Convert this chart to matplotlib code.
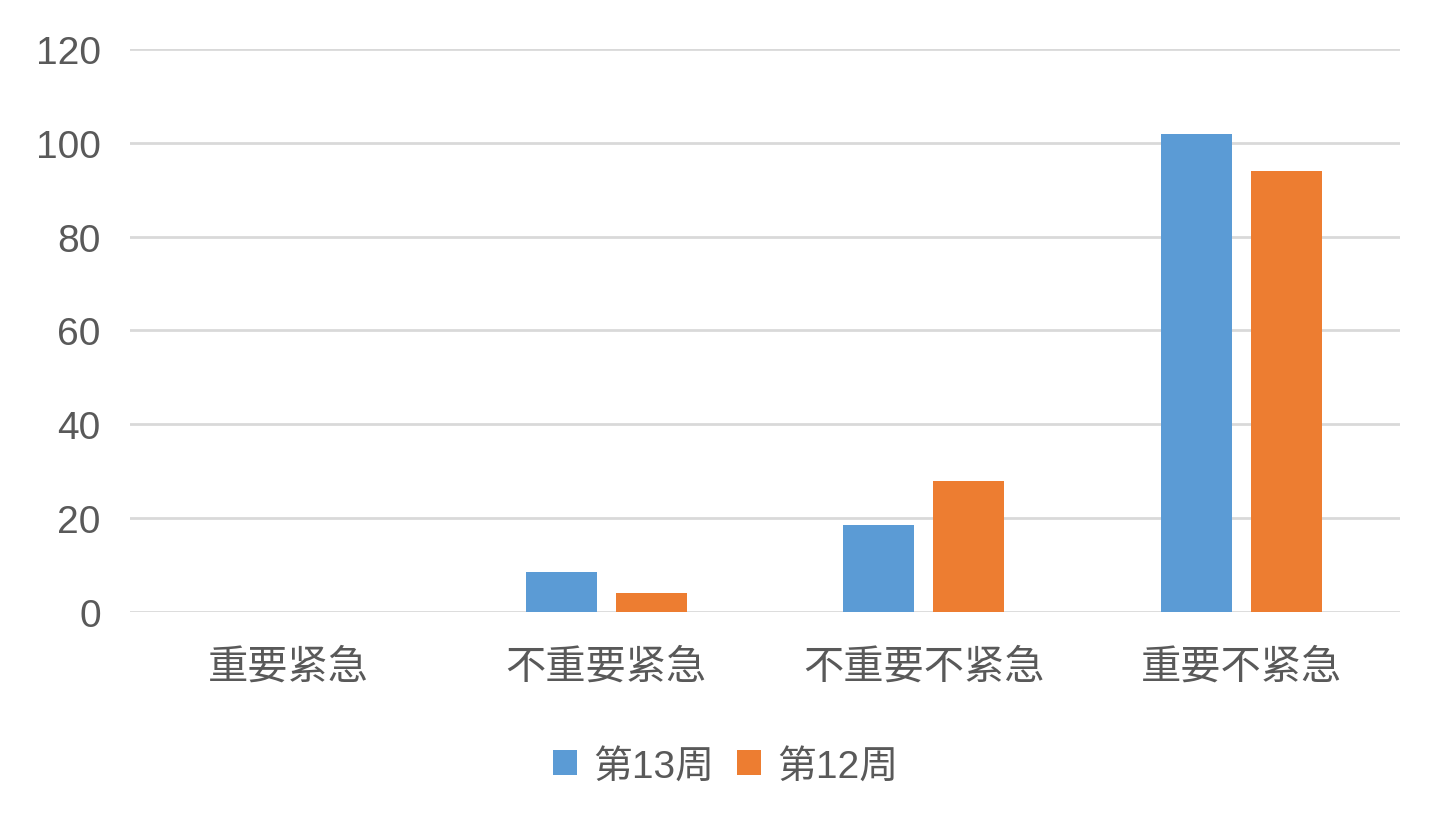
import numpy as np
from matplotlib import pyplot as plt

plt.rcParams['font.family'] = ['Liberation Sans', 'Noto Sans CJK SC']

# 数据
categories = ['重要紧急', '不重要紧急', '不重要不紧急', '重要不紧急']
week13 = [0, 8.6, 18.6, 101.8]
week12 = [0, 4.1, 27.9, 93.9]
series_names = ['第13周', '第12周']
colors = ['#5b9bd5', '#ed7d31']
text_color = '#595959'

fig = plt.figure(figsize=(14.51, 8.28), dpi=100)
ax = fig.add_axes([0.0896, 0.2597, 0.8753, 0.6799])

x = np.arange(len(categories))
w = 0.224
off = 0.142
ax.bar(x - off, week13, w, color=colors[0], label=series_names[0], zorder=3)
ax.bar(x + off, week12, w, color=colors[1], label=series_names[1], zorder=3)

ax.set_xlim(-0.5, len(categories) - 0.5)
ax.set_ylim(0, 120)
ax.set_yticks(range(0, 121, 20))
ax.set_xticks(x)
ax.set_xticklabels(categories, family=['Noto Sans CJK SC'], fontsize=29,
                   color=text_color)
ax.tick_params(axis='y', length=0, pad=21, labelsize=28, labelcolor=text_color)
ax.tick_params(axis='x', length=0, pad=24)

ax.grid(axis='y', color='#d9d9d9', linewidth=2, zorder=0)
for s in ax.spines.values():
    s.set_visible(False)

leg = fig.legend(loc='center', bbox_to_anchor=(0.5, 0.073), ncol=2,
                 frameon=False, fontsize=28, handlelength=0.62, handleheight=0.62,
                 handletextpad=0.4, columnspacing=0.6, labelcolor=text_color)

fig.savefig('out.png', dpi=100)
